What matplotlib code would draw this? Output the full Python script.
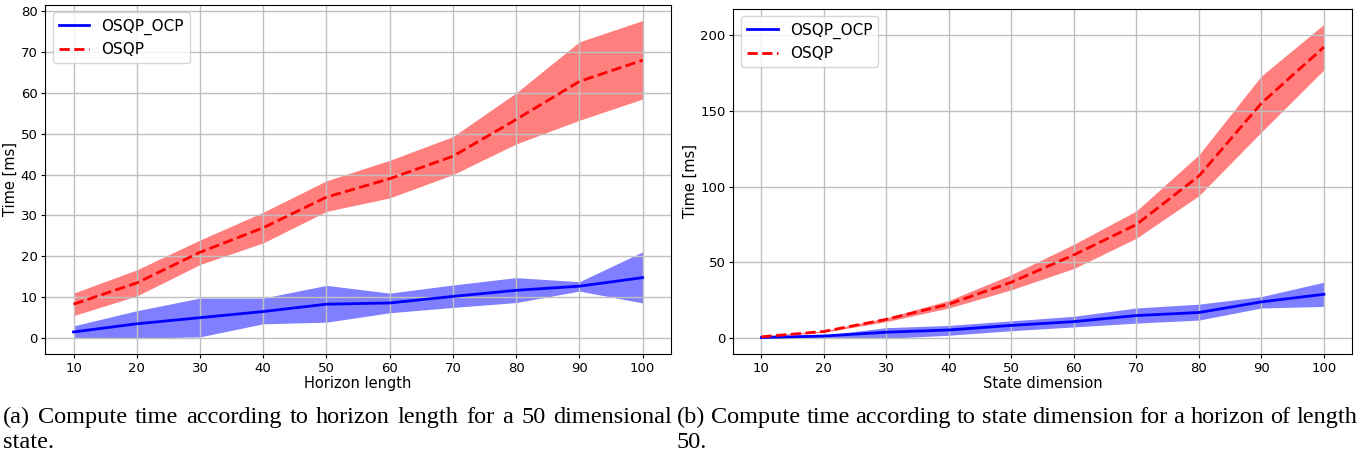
import numpy as np
import matplotlib
matplotlib.use("Agg")
import matplotlib.pyplot as plt

# horizon length experiment (50 dim state)
horizon = [10, 20, 30, 40, 50, 60, 70, 80, 90, 100]
ocp_h_mean = [1.5, 3.5, 5.0, 6.5, 8.3, 8.6, 10.2, 11.7, 12.7, 14.8]
ocp_h_low = [0.0, 0.0, 0.3, 3.5, 3.9, 6.2, 7.5, 8.7, 11.5, 8.6]
ocp_h_high = [3.0, 6.7, 9.8, 9.8, 12.9, 11.0, 13.0, 14.8, 13.8, 21.1]
osqp_h_mean = [8.3, 13.5, 21.0, 27.0, 34.5, 39.0, 44.5, 53.5, 62.8, 68.0]
osqp_h_low = [5.5, 10.3, 18.0, 23.3, 31.0, 34.3, 40.0, 47.5, 53.3, 58.5]
osqp_h_high = [11.0, 16.7, 24.0, 30.8, 38.5, 43.5, 49.3, 60.0, 72.5, 77.7]

# state dimension experiment (horizon 50)
statedim = [10, 20, 30, 40, 50, 60, 70, 80, 90, 100]
ocp_s_mean = [0.5, 1.5, 4.0, 5.5, 8.5, 11.0, 15.0, 17.0, 24.0, 29.0]
ocp_s_low = [0.0, 0.5, 0.0, 2.0, 5.0, 7.5, 10.0, 12.0, 20.0, 21.0]
ocp_s_high = [1.0, 2.0, 7.0, 8.5, 11.5, 14.5, 20.0, 22.5, 27.5, 37.0]
osqp_s_mean = [1.0, 4.5, 12.5, 22.5, 37.0, 55.0, 75.0, 107.0, 155.0, 192.0]
osqp_s_low = [0.8, 4.0, 11.0, 20.0, 32.0, 46.0, 66.0, 94.0, 136.0, 177.0]
osqp_s_high = [1.5, 5.0, 13.5, 25.0, 42.0, 62.0, 84.0, 121.0, 173.0, 207.0]

caption_a = ["(a) Compute time according to horizon length for a 50 dimensional", "state."]
caption_b = ["(b) Compute time according to state dimension for a horizon of length", "50."]


def drawPanel(ax, x, m1, lo1, hi1, m2, lo2, hi2, xlab):
    ax.fill_between(x, lo1, hi1, color='b', alpha=0.5, linewidth=0)
    ax.fill_between(x, lo2, hi2, color='r', alpha=0.5, linewidth=0)
    ax.plot(x, m1, 'b-', lw=2, label="OSQP_OCP")
    ax.plot(x, m2, 'r--', lw=2, label="OSQP")
    ax.set_xticks(x)
    ax.grid(True, color='#c0c0c0', lw=1)
    ax.tick_params(labelsize=9.5, length=3, pad=2.5)
    ax.set_xlabel(xlab, fontsize=10.5, labelpad=1)
    ax.set_ylabel("Time [ms]", fontsize=10.5, labelpad=2)
    ax.legend(loc='upper left', fontsize=11)


def justify(fig, line, x0, x1, y, fs):
    # spread the words between x0 and x1 like latex justified text
    words = line.split(" ")
    r = fig.canvas.get_renderer()
    W = fig.get_figwidth() * fig.dpi
    txts = [fig.text(0, y, w, fontsize=fs, family='Liberation Serif', va='baseline') for w in words]
    widths = [t.get_window_extent(r).width / W for t in txts]
    gap = (x1 - x0 - sum(widths)) / (len(words) - 1)
    pos = x0
    for t, w in zip(txts, widths):
        t.set_x(pos)
        pos = pos + w + gap


fig = plt.figure(figsize=(13.61, 4.59), dpi=100)
ax1 = fig.add_axes([0.0331, 0.2288, 0.46, 0.761])
ax2 = fig.add_axes([0.5388, 0.2288, 0.4546, 0.7523])

drawPanel(ax1, horizon, ocp_h_mean, ocp_h_low, ocp_h_high,
          osqp_h_mean, osqp_h_low, osqp_h_high, "Horizon length")
drawPanel(ax2, statedim, ocp_s_mean, ocp_s_low, ocp_s_high,
          osqp_s_mean, osqp_s_low, osqp_s_high, "State dimension")

W = 1361.0
H = 459.0
fs = 17.5
justify(fig, caption_a[0], 3 / W, 672 / W, 1 - 423 / H, fs)
fig.text(3 / W, 1 - 448 / H, caption_a[1], fontsize=fs, family='Liberation Serif', va='baseline')
justify(fig, caption_b[0], 677 / W, 1357 / W, 1 - 423 / H, fs)
fig.text(677 / W, 1 - 448 / H, caption_b[1], fontsize=fs, family='Liberation Serif', va='baseline')

fig.savefig("out.png", dpi=100)
